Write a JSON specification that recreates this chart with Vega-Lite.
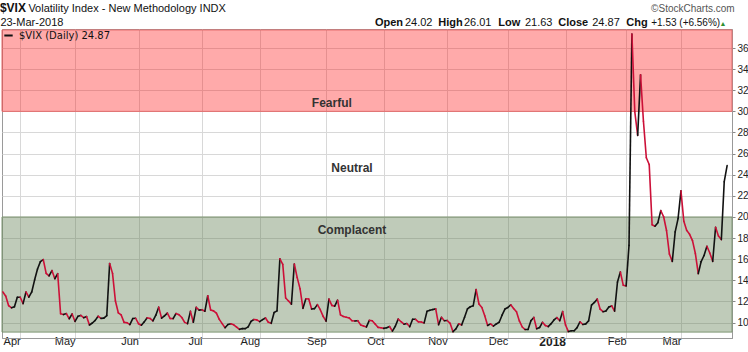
{
 "$schema": "https://vega.github.io/schema/vega-lite/v6.json",
 "width": 730,
 "height": 309,
 "autosize": {"type": "none"},
 "padding": {"left": 2, "top": 29, "right": 16, "bottom": 14},
 "background": "white",
 "config": {"view": {"stroke": "#9a9a9a", "strokeWidth": 1}, "font": "Liberation Sans", "axis": {"labelOverlap": false}, "axisRight": {"labelOverlap": false, "labelBound": false}},
 "datasets": {
  "vix": [
   {"date":"2017-03-24","close":12.9},{"date":"2017-03-27","close":12.5},{"date":"2017-03-28","close":11.6},{"date":"2017-03-29","close":11.4},{"date":"2017-03-30","close":11.5},{"date":"2017-03-31","close":12.4},
   {"date":"2017-04-03","close":12.4},{"date":"2017-04-04","close":11.8},{"date":"2017-04-05","close":12.9},{"date":"2017-04-06","close":12.4},{"date":"2017-04-07","close":12.9},{"date":"2017-04-10","close":14.05},{"date":"2017-04-11","close":15.07},{"date":"2017-04-12","close":15.77},{"date":"2017-04-13","close":15.96},{"date":"2017-04-17","close":14.66},{"date":"2017-04-18","close":14.42},{"date":"2017-04-19","close":14.93},{"date":"2017-04-20","close":14.15},{"date":"2017-04-21","close":14.63},{"date":"2017-04-24","close":10.84},{"date":"2017-04-25","close":10.76},{"date":"2017-04-26","close":10.85},{"date":"2017-04-27","close":10.36},{"date":"2017-04-28","close":10.82},
   {"date":"2017-05-01","close":10.11},{"date":"2017-05-02","close":10.59},{"date":"2017-05-03","close":10.68},{"date":"2017-05-04","close":10.46},{"date":"2017-05-05","close":10.57},{"date":"2017-05-08","close":9.77},{"date":"2017-05-09","close":9.96},{"date":"2017-05-10","close":10.21},{"date":"2017-05-11","close":10.6},{"date":"2017-05-12","close":10.4},{"date":"2017-05-15","close":10.42},{"date":"2017-05-16","close":10.65},{"date":"2017-05-17","close":15.59},{"date":"2017-05-18","close":14.66},{"date":"2017-05-19","close":12.04},{"date":"2017-05-22","close":10.93},{"date":"2017-05-23","close":10.72},{"date":"2017-05-24","close":10.02},{"date":"2017-05-25","close":9.99},{"date":"2017-05-26","close":9.81},{"date":"2017-05-30","close":10.38},{"date":"2017-05-31","close":10.41},
   {"date":"2017-06-01","close":9.89},{"date":"2017-06-02","close":9.75},{"date":"2017-06-05","close":10.07},{"date":"2017-06-06","close":10.45},{"date":"2017-06-07","close":10.39},{"date":"2017-06-08","close":10.16},{"date":"2017-06-09","close":10.7},{"date":"2017-06-12","close":11.46},{"date":"2017-06-13","close":10.42},{"date":"2017-06-14","close":10.64},{"date":"2017-06-15","close":10.9},{"date":"2017-06-16","close":10.38},{"date":"2017-06-19","close":10.37},{"date":"2017-06-20","close":10.86},{"date":"2017-06-21","close":10.75},{"date":"2017-06-22","close":10.48},{"date":"2017-06-23","close":10.02},{"date":"2017-06-26","close":9.9},{"date":"2017-06-27","close":11.06},{"date":"2017-06-28","close":10.03},{"date":"2017-06-29","close":11.44},{"date":"2017-06-30","close":11.18},
   {"date":"2017-07-03","close":11.22},{"date":"2017-07-05","close":11.07},{"date":"2017-07-06","close":12.54},{"date":"2017-07-07","close":11.19},{"date":"2017-07-10","close":11.11},{"date":"2017-07-11","close":10.89},{"date":"2017-07-12","close":10.3},{"date":"2017-07-13","close":9.9},{"date":"2017-07-14","close":9.51},{"date":"2017-07-17","close":9.82},{"date":"2017-07-18","close":9.89},{"date":"2017-07-19","close":9.79},{"date":"2017-07-20","close":9.58},{"date":"2017-07-21","close":9.36},{"date":"2017-07-24","close":9.43},{"date":"2017-07-25","close":9.43},{"date":"2017-07-26","close":9.6},{"date":"2017-07-27","close":10.11},{"date":"2017-07-28","close":10.29},{"date":"2017-07-31","close":10.26},
   {"date":"2017-08-01","close":10.09},{"date":"2017-08-02","close":10.28},{"date":"2017-08-03","close":10.44},{"date":"2017-08-04","close":10.03},{"date":"2017-08-07","close":9.93},{"date":"2017-08-08","close":10.96},{"date":"2017-08-09","close":11.11},{"date":"2017-08-10","close":16.04},{"date":"2017-08-11","close":15.51},{"date":"2017-08-14","close":12.33},{"date":"2017-08-15","close":12.04},{"date":"2017-08-16","close":11.74},{"date":"2017-08-17","close":15.55},{"date":"2017-08-18","close":14.26},{"date":"2017-08-21","close":13.19},{"date":"2017-08-22","close":11.35},{"date":"2017-08-23","close":12.25},{"date":"2017-08-24","close":12.23},{"date":"2017-08-25","close":11.28},{"date":"2017-08-28","close":11.32},{"date":"2017-08-29","close":11.7},{"date":"2017-08-30","close":11.22},{"date":"2017-08-31","close":10.59},
   {"date":"2017-09-01","close":10.13},{"date":"2017-09-05","close":12.23},{"date":"2017-09-06","close":11.63},{"date":"2017-09-07","close":11.55},{"date":"2017-09-08","close":12.12},{"date":"2017-09-11","close":10.73},{"date":"2017-09-12","close":10.58},{"date":"2017-09-13","close":10.5},{"date":"2017-09-14","close":10.44},{"date":"2017-09-15","close":10.17},{"date":"2017-09-18","close":10.15},{"date":"2017-09-19","close":10.18},{"date":"2017-09-20","close":9.78},{"date":"2017-09-21","close":9.67},{"date":"2017-09-22","close":9.59},{"date":"2017-09-25","close":10.21},{"date":"2017-09-26","close":10.17},{"date":"2017-09-27","close":9.87},{"date":"2017-09-28","close":9.55},{"date":"2017-09-29","close":9.51},
   {"date":"2017-10-02","close":9.45},{"date":"2017-10-03","close":9.51},{"date":"2017-10-04","close":9.63},{"date":"2017-10-05","close":9.19},{"date":"2017-10-06","close":9.65},{"date":"2017-10-09","close":10.33},{"date":"2017-10-10","close":10.08},{"date":"2017-10-11","close":9.85},{"date":"2017-10-12","close":9.91},{"date":"2017-10-13","close":9.61},{"date":"2017-10-16","close":10.31},{"date":"2017-10-17","close":10.31},{"date":"2017-10-18","close":10.07},{"date":"2017-10-19","close":10.05},{"date":"2017-10-20","close":9.97},{"date":"2017-10-23","close":11.07},{"date":"2017-10-24","close":11.16},{"date":"2017-10-25","close":11.23},{"date":"2017-10-26","close":11.3},{"date":"2017-10-27","close":9.8},{"date":"2017-10-30","close":10.5},{"date":"2017-10-31","close":10.18},
   {"date":"2017-11-01","close":10.2},{"date":"2017-11-02","close":9.93},{"date":"2017-11-03","close":9.14},{"date":"2017-11-06","close":9.4},{"date":"2017-11-07","close":9.89},{"date":"2017-11-08","close":9.78},{"date":"2017-11-09","close":10.5},{"date":"2017-11-10","close":11.29},{"date":"2017-11-13","close":11.5},{"date":"2017-11-14","close":11.59},{"date":"2017-11-15","close":13.13},{"date":"2017-11-16","close":11.76},{"date":"2017-11-17","close":11.43},{"date":"2017-11-20","close":10.65},{"date":"2017-11-21","close":9.73},{"date":"2017-11-22","close":9.88},{"date":"2017-11-24","close":9.67},{"date":"2017-11-27","close":9.87},{"date":"2017-11-28","close":10.03},{"date":"2017-11-29","close":10.7},{"date":"2017-11-30","close":11.28},
   {"date":"2017-12-01","close":11.43},{"date":"2017-12-04","close":11.68},{"date":"2017-12-05","close":11.33},{"date":"2017-12-06","close":11.02},{"date":"2017-12-07","close":10.16},{"date":"2017-12-08","close":9.58},{"date":"2017-12-11","close":9.34},{"date":"2017-12-12","close":9.35},{"date":"2017-12-13","close":10.18},{"date":"2017-12-14","close":10.49},{"date":"2017-12-15","close":9.42},{"date":"2017-12-18","close":9.53},{"date":"2017-12-19","close":10.03},{"date":"2017-12-20","close":9.72},{"date":"2017-12-21","close":9.62},{"date":"2017-12-22","close":9.9},{"date":"2017-12-26","close":10.25},{"date":"2017-12-27","close":10.47},{"date":"2017-12-28","close":10.18},{"date":"2017-12-29","close":11.04},
   {"date":"2018-01-02","close":9.77},{"date":"2018-01-03","close":9.15},{"date":"2018-01-04","close":9.22},{"date":"2018-01-05","close":9.22},{"date":"2018-01-08","close":9.52},{"date":"2018-01-09","close":10.08},{"date":"2018-01-10","close":9.82},{"date":"2018-01-11","close":9.88},{"date":"2018-01-12","close":10.16},{"date":"2018-01-16","close":11.66},{"date":"2018-01-17","close":11.91},{"date":"2018-01-18","close":12.22},{"date":"2018-01-19","close":11.27},{"date":"2018-01-22","close":11.03},{"date":"2018-01-23","close":11.1},{"date":"2018-01-24","close":11.47},{"date":"2018-01-25","close":11.58},{"date":"2018-01-26","close":11.08},{"date":"2018-01-29","close":13.84},{"date":"2018-01-30","close":14.79},{"date":"2018-01-31","close":13.54},
   {"date":"2018-02-01","close":13.47},{"date":"2018-02-02","close":17.31},{"date":"2018-02-05","close":37.32},{"date":"2018-02-06","close":29.98},{"date":"2018-02-07","close":27.73},{"date":"2018-02-08","close":33.46},{"date":"2018-02-09","close":29.06},{"date":"2018-02-12","close":25.61},{"date":"2018-02-13","close":24.97},{"date":"2018-02-14","close":19.26},{"date":"2018-02-15","close":19.13},{"date":"2018-02-16","close":19.46},{"date":"2018-02-20","close":20.6},{"date":"2018-02-21","close":20.02},{"date":"2018-02-22","close":18.72},{"date":"2018-02-23","close":16.49},{"date":"2018-02-26","close":15.8},{"date":"2018-02-27","close":18.59},{"date":"2018-02-28","close":19.85},
   {"date":"2018-03-01","close":22.47},{"date":"2018-03-02","close":19.59},{"date":"2018-03-05","close":18.73},{"date":"2018-03-06","close":18.36},{"date":"2018-03-07","close":17.76},{"date":"2018-03-08","close":16.54},{"date":"2018-03-09","close":14.64},{"date":"2018-03-12","close":15.78},{"date":"2018-03-13","close":16.35},{"date":"2018-03-14","close":17.23},{"date":"2018-03-15","close":16.59},{"date":"2018-03-16","close":15.8},{"date":"2018-03-19","close":19.02},{"date":"2018-03-20","close":18.2},{"date":"2018-03-21","close":17.86},{"date":"2018-03-22","close":23.34},{"date":"2018-03-23","close":24.87}
  ]
 },
 "layer": [
  {
   "data": {"values": [{"high": 37.71, "low": 30}]},
   "mark": {"type": "rect", "fill": "#ff0000", "fillOpacity": 0.333, "stroke": "#e36a6a", "strokeWidth": 1},
   "encoding": {"y": {"field": "high", "type": "quantitative"}, "y2": {"field": "low"}}
  },
  {
   "data": {"values": [{"high": 20, "low": 9.1}]},
   "mark": {"type": "rect", "fill": "#5f7d50", "fillOpacity": 0.4, "stroke": "#7f9674", "strokeWidth": 1},
   "encoding": {"y": {"field": "high", "type": "quantitative"}, "y2": {"field": "low"}}
  },
  {
   "data": {"values": [{}]},
   "mark": {"type": "text", "text": "Fearful", "fontWeight": "bold", "fontSize": 12, "color": "#333333", "baseline": "middle"},
   "encoding": {"x": {"datum": "2017-09-06", "type": "ordinal"}, "y": {"datum": 30.75, "type": "quantitative"}}
  },
  {
   "data": {"values": [{}]},
   "mark": {"type": "text", "text": "Neutral", "fontWeight": "bold", "fontSize": 12, "color": "#333333", "baseline": "middle"},
   "encoding": {"x": {"datum": "2017-09-15", "type": "ordinal"}, "y": {"datum": 24.68, "type": "quantitative"}}
  },
  {
   "data": {"values": [{}]},
   "mark": {"type": "text", "text": "Complacent", "fontWeight": "bold", "fontSize": 12, "color": "#333333", "baseline": "middle"},
   "encoding": {"x": {"datum": "2017-09-15", "type": "ordinal"}, "y": {"datum": 18.8, "type": "quantitative"}}
  },
  {
   "data": {"name": "vix"},
   "transform": [
    {"window": [{"op": "lead", "field": "close", "as": "nextClose"}, {"op": "lead", "field": "date", "as": "nextDate"}], "sort": [{"field": "date", "order": "ascending"}]},
    {"filter": "isValid(datum.nextDate)"}
   ],
   "mark": {"type": "rule", "strokeWidth": 1.6, "strokeCap": "round"},
   "encoding": {
    "x": {
     "field": "date", "type": "ordinal",
     "scale": {"type": "point", "padding": 1.68, "align": 0.154, "round": false},
     "axis": {
      "title": null,
      "values": ["2017-04-03","2017-05-01","2017-06-01","2017-07-03","2017-08-01","2017-09-01","2017-10-02","2017-11-01","2017-12-01","2018-01-02","2018-02-01","2018-03-01"],
      "labelExpr": "datum.value == '2018-01-02' ? '2018' : utcFormat(toDate(datum.value), '%b')",
      "labelAngle": 0,
      "labelFontSize": {"condition": {"test": "datum.value == '2018-01-02'", "value": 12}, "value": 11},
      "labelFontWeight": {"condition": {"test": "datum.value == '2018-01-02'", "value": "bold"}, "value": "normal"},
      "labelColor": "#222222",
      "labelPadding": 3,
      "labelOverlap": false,
      "tickSize": 0,
      "domainColor": "#999999",
      "grid": true,
      "gridColor": "#d8d8d8"
     }
    },
    "x2": {"field": "nextDate"},
    "y": {
     "field": "close", "type": "quantitative",
     "scale": {"domain": [8.54, 37.8], "nice": false, "zero": false},
     "axis": {
      "title": null, "orient": "right",
      "tickCount": 15,
      "labelFontSize": 10, "labelColor": "#222222", "labelPadding": 2,
      "labelOverlap": false, "labelBound": false, "labelSeparation": 0,
      "tickSize": 3, "tickColor": "#888888", "domainColor": "#999999",
      "grid": true, "gridColor": "#d8d8d8"
     }
    },
    "y2": {"field": "nextClose"},
    "color": {
     "condition": {"test": "datum.nextClose < datum.close", "value": "#cc1038"},
     "datum": "$VIX (Daily) 24.87", "type": "nominal",
     "scale": {"range": ["#111111"]},
     "legend": {"orient": "top-left", "title": null, "offset": 1, "padding": 0, "symbolType": "stroke", "symbolStrokeWidth": 2, "symbolSize": 70, "labelFont": "DejaVu Sans", "labelFontSize": 10, "labelColor": "#111111", "labelOffset": 5}
    }
   }
  },
  {
   "data": {"values": [{}]},
   "mark": {"type": "text", "text": "$VIX", "fontWeight": "bold", "fontSize": 12, "color": "#111111", "align": "left", "baseline": "alphabetic", "dx": -3},
   "encoding": {"x": {"datum": "2017-03-24", "type": "ordinal"}, "y": {"datum": 39.45, "type": "quantitative"}}
  },
  {
   "data": {"values": [{}]},
   "mark": {"type": "text", "text": "Volatility Index - New Methodology  INDX", "fontSize": 11, "color": "#111111", "align": "left", "baseline": "alphabetic", "dx": 25.5},
   "encoding": {"x": {"datum": "2017-03-24", "type": "ordinal"}, "y": {"datum": 39.45, "type": "quantitative"}}
  },
  {
   "data": {"values": [{}]},
   "mark": {"type": "text", "text": "23-Mar-2018", "fontSize": 11, "color": "#111111", "align": "left", "baseline": "alphabetic", "dx": -2.5},
   "encoding": {"x": {"datum": "2017-03-24", "type": "ordinal"}, "y": {"datum": 38.08, "type": "quantitative"}}
  },
  {
   "data": {"values": [{}]},
   "mark": {"type": "text", "text": "©StockCharts.com", "fontSize": 10, "color": "#555555", "align": "right", "baseline": "alphabetic", "dx": 7.5},
   "encoding": {"x": {"datum": "2018-03-23", "type": "ordinal"}, "y": {"datum": 39.41, "type": "quantitative"}}
  },
  {"data": {"values": [{}]}, "mark": {"type": "text", "text": "Open", "fontWeight": "bold", "fontSize": 11, "color": "#111111", "align": "left", "baseline": "alphabetic", "dx": -352.2}, "encoding": {"x": {"datum": "2018-03-23", "type": "ordinal"}, "y": {"datum": 38.04, "type": "quantitative"}}},
  {"data": {"values": [{}]}, "mark": {"type": "text", "text": "24.02", "fontSize": 11, "color": "#111111", "align": "left", "baseline": "alphabetic", "dx": -322.2}, "encoding": {"x": {"datum": "2018-03-23", "type": "ordinal"}, "y": {"datum": 38.04, "type": "quantitative"}}},
  {"data": {"values": [{}]}, "mark": {"type": "text", "text": "High", "fontWeight": "bold", "fontSize": 11, "color": "#111111", "align": "left", "baseline": "alphabetic", "dx": -288.9}, "encoding": {"x": {"datum": "2018-03-23", "type": "ordinal"}, "y": {"datum": 38.04, "type": "quantitative"}}},
  {"data": {"values": [{}]}, "mark": {"type": "text", "text": "26.01", "fontSize": 11, "color": "#111111", "align": "left", "baseline": "alphabetic", "dx": -263.2}, "encoding": {"x": {"datum": "2018-03-23", "type": "ordinal"}, "y": {"datum": 38.04, "type": "quantitative"}}},
  {"data": {"values": [{}]}, "mark": {"type": "text", "text": "Low", "fontWeight": "bold", "fontSize": 11, "color": "#111111", "align": "left", "baseline": "alphabetic", "dx": -228.9}, "encoding": {"x": {"datum": "2018-03-23", "type": "ordinal"}, "y": {"datum": 38.04, "type": "quantitative"}}},
  {"data": {"values": [{}]}, "mark": {"type": "text", "text": "21.63", "fontSize": 11, "color": "#111111", "align": "left", "baseline": "alphabetic", "dx": -202.2}, "encoding": {"x": {"datum": "2018-03-23", "type": "ordinal"}, "y": {"datum": 38.04, "type": "quantitative"}}},
  {"data": {"values": [{}]}, "mark": {"type": "text", "text": "Close", "fontWeight": "bold", "fontSize": 11, "color": "#111111", "align": "left", "baseline": "alphabetic", "dx": -168.9}, "encoding": {"x": {"datum": "2018-03-23", "type": "ordinal"}, "y": {"datum": 38.04, "type": "quantitative"}}},
  {"data": {"values": [{}]}, "mark": {"type": "text", "text": "24.87", "fontSize": 11, "color": "#111111", "align": "left", "baseline": "alphabetic", "dx": -134.9}, "encoding": {"x": {"datum": "2018-03-23", "type": "ordinal"}, "y": {"datum": 38.04, "type": "quantitative"}}},
  {"data": {"values": [{}]}, "mark": {"type": "text", "text": "Chg", "fontWeight": "bold", "fontSize": 11, "color": "#111111", "align": "left", "baseline": "alphabetic", "dx": -100.9}, "encoding": {"x": {"datum": "2018-03-23", "type": "ordinal"}, "y": {"datum": 38.04, "type": "quantitative"}}},
  {"data": {"values": [{}]}, "mark": {"type": "text", "text": "+1.53 (+6.56%)", "fontSize": 10, "color": "#111111", "align": "left", "baseline": "alphabetic", "dx": -75.9}, "encoding": {"x": {"datum": "2018-03-23", "type": "ordinal"}, "y": {"datum": 38.04, "type": "quantitative"}}},
  {"data": {"values": [{}]}, "mark": {"type": "text", "text": "▲", "fontSize": 7, "color": "#2f8f2f", "align": "left", "baseline": "alphabetic", "dx": -7.5}, "encoding": {"x": {"datum": "2018-03-23", "type": "ordinal"}, "y": {"datum": 38.04, "type": "quantitative"}}}
 ]
}
